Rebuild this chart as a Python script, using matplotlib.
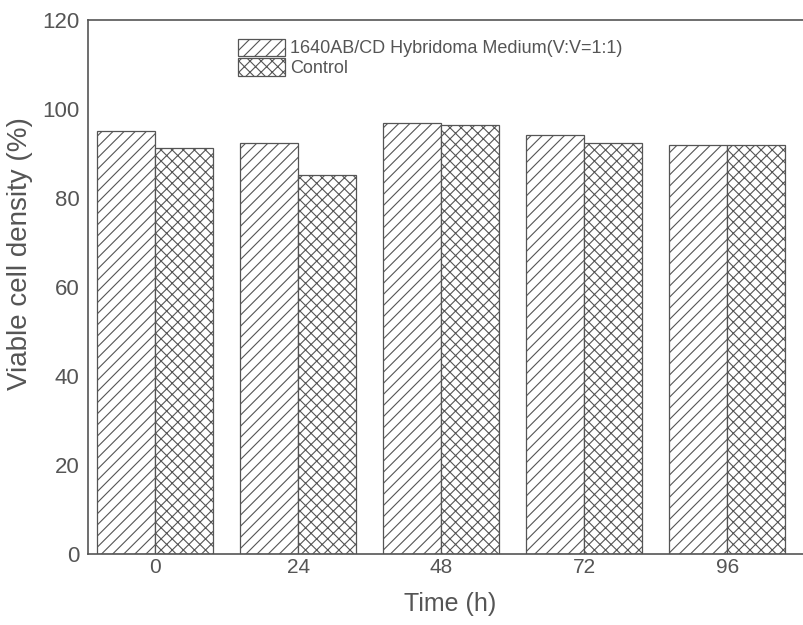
import numpy as np
import matplotlib.pyplot as plt

# Данные
times = ['0', '24', '48', '72', '96']
medium = [95.1, 92.4, 96.9, 94.2, 91.9]
control = [91.3, 85.2, 96.4, 92.4, 91.9]

plt.rcParams['font.family'] = ['Liberation Sans', 'DejaVu Sans']
plt.rcParams['hatch.color'] = '#6a6a6a'
plt.rcParams['hatch.linewidth'] = 0.8

fig = plt.figure(figsize=(8.04, 6.25), dpi=100)
ax = fig.add_axes([88 / 804, 71 / 625, 725 / 804, 534 / 625])

x = np.arange(len(times))
w = 0.405
ax.bar(x - w / 2, medium, w, facecolor='white', edgecolor='#555555',
       linewidth=0.9, hatch='///', label='1640AB/CD Hybridoma Medium(V:V=1:1)')
ax.bar(x + w / 2, control, w, facecolor='white', edgecolor='#555555',
       linewidth=0.9, hatch='xxx', label='Control')

ax.set_xlim(-0.47, 4.6)
ax.set_ylim(0, 120)
ax.set_yticks(range(0, 121, 20))
ax.set_xticks(x)
ax.set_xticklabels(times)
ax.tick_params(length=0, labelcolor='#555555')
ax.tick_params(axis='y', labelsize=16, pad=6)
ax.tick_params(axis='x', labelsize=15, pad=3)

for s in ax.spines.values():
    s.set_color('#555555')
    s.set_linewidth(1.2)

ax.set_xlabel('Time (h)', fontsize=18, color='#555555', labelpad=11)
ax.set_ylabel('Viable cell density (%)', fontsize=20, color='#555555')
ax.yaxis.set_label_coords(-0.076, 0.562)

ax.legend(loc='upper left', bbox_to_anchor=(0.207, 0.965), frameon=False,
          fontsize=13, handlelength=2.6, handleheight=1.1, labelspacing=0.05,
          handletextpad=0.3, borderpad=0, borderaxespad=0,
          labelcolor='#555555')

fig.savefig('out.png', dpi=100)
